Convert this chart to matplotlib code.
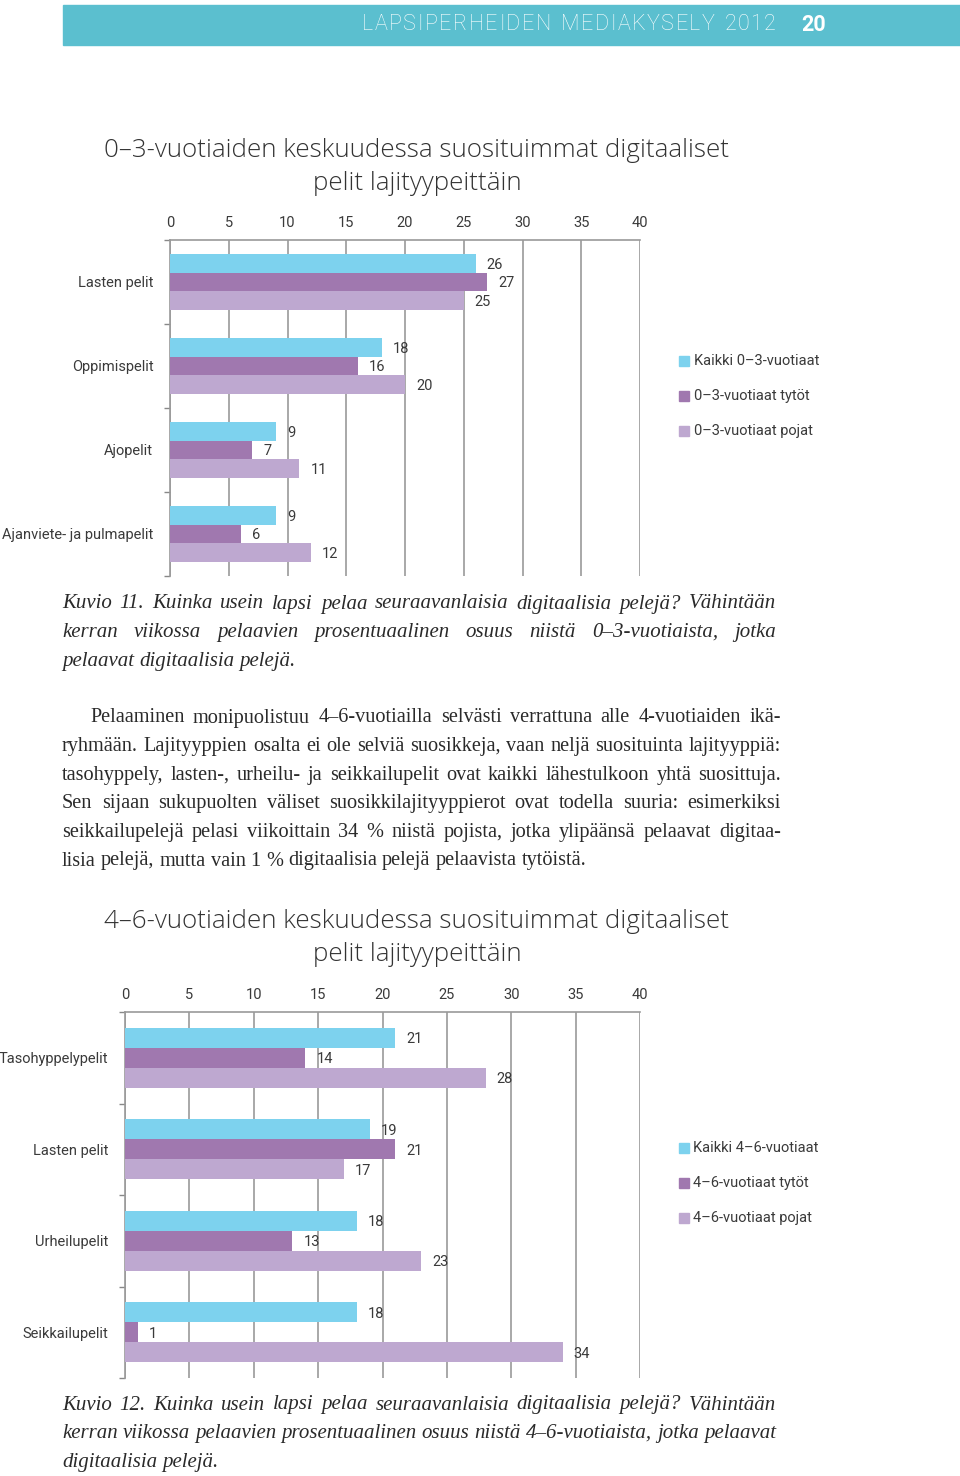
import matplotlib
matplotlib.use("Agg")
import matplotlib.pyplot as plt
import numpy as np
from matplotlib.patches import Rectangle

W, H = 960, 1476

# ---- data ----
cats1 = ["Lasten pelit", "Oppimispelit", "Ajopelit", "Ajanviete- ja pulmapelit"]
all_03 = [26, 18, 9, 9]
girls_03 = [27, 16, 7, 6]
boys_03 = [25, 20, 11, 12]
legend1 = ["Kaikki 0\u20133-vuotiaat", "0\u20133-vuotiaat tytöt", "0\u20133-vuotiaat pojat"]

cats2 = ["Tasohyppelypelit", "Lasten pelit", "Urheilupelit", "Seikkailupelit"]
all_46 = [21, 19, 18, 18]
girls_46 = [14, 21, 13, 1]
boys_46 = [28, 17, 23, 34]
legend2 = ["Kaikki 4\u20136-vuotiaat", "4\u20136-vuotiaat tytöt", "4\u20136-vuotiaat pojat"]

xticks = [0, 5, 10, 15, 20, 25, 30, 35, 40]

header = "LAPSIPERHEIDEN MEDIAKYSELY 2012"
page_no = "20"

title1 = "0\u20133-vuotiaiden keskuudessa suosituimmat digitaaliset\npelit lajityypeittäin"
title2 = "4\u20136-vuotiaiden keskuudessa suosituimmat digitaaliset\npelit lajityypeittäin"

caption1 = ["Kuvio 11. Kuinka usein lapsi pelaa seuraavanlaisia digitaalisia pelejä? Vähintään",
            "kerran viikossa pelaavien prosentuaalinen osuus niistä 0\u20133-vuotiaista, jotka",
            "pelaavat digitaalisia pelejä."]
body = ["Pelaaminen monipuolistuu 4\u20136-vuotiailla selvästi verrattuna alle 4-vuotiaiden ikä-",
        "ryhmään. Lajityyppien osalta ei ole selviä suosikkeja, vaan neljä suosituinta lajityyppiä:",
        "tasohyppely, lasten-, urheilu- ja seikkailupelit ovat kaikki lähestulkoon yhtä suosittuja.",
        "Sen sijaan sukupuolten väliset suosikkilajityyppierot ovat todella suuria: esimerkiksi",
        "seikkailupelejä pelasi viikoittain 34 % niistä pojista, jotka ylipäänsä pelaavat digitaa-",
        "lisia pelejä, mutta vain 1 % digitaalisia pelejä pelaavista tytöistä."]
caption2 = ["Kuvio 12. Kuinka usein lapsi pelaa seuraavanlaisia digitaalisia pelejä? Vähintään",
            "kerran viikossa pelaavien prosentuaalinen osuus niistä 4\u20136-vuotiaista, jotka pelaavat",
            "digitaalisia pelejä."]

colors = ["#7dd2ee", "#a078af", "#bea8d0"]
txt = "#3a3a3a"
sans = ["Roboto", "DejaVu Sans"]
title_font = ["Open Sans", "DejaVu Sans"]
serif = ["Liberation Serif", "DejaVu Serif"]

fig = plt.figure(figsize=(W / 100, H / 100), dpi=100)
renderer = fig.canvas.get_renderer()


def fx(px):
    return px / W


def fy(py):
    return 1 - py / H


def text_width(s, **kw):
    t = fig.text(0, 0, s, **kw)
    w = t.get_window_extent(renderer).width
    t.remove()
    return w


# header band, letter-spaced title
fig.patches.append(Rectangle((fx(63), fy(45)), fx(960) - fx(63), fy(5) - fy(45),
                             transform=fig.transFigure, color="#5bbfcf", zorder=0))
hkw = dict(fontsize=15.5, family=sans, fontweight="light")
cw = [text_width(c if c != " " else "n", **hkw) * (0.55 if c == " " else 1) for c in header]
track = (414 - sum(cw)) / (len(header) - 1)
x = 776 - 414
for c, w in zip(header, cw):
    fig.text(fx(x), fy(25), c, color="white", ha="left", va="center", **hkw)
    x += w + track
fig.text(fx(801), fy(25), page_no, color="white", fontsize=15.5, family=sans,
         ha="left", va="center", fontweight="bold")


def chart(left, right, top, bottom, cats, series, labels, title_y, title, leg_x, leg_y):
    ax = fig.add_axes([fx(left), fy(bottom), fx(right) - fx(left), fy(top) - fy(bottom)])
    n = len(cats)
    bh = 0.22
    centers = np.arange(n) + 0.5
    for k, vals in enumerate(series):
        ys = centers + (k - 1) * bh
        ax.barh(ys, vals, height=bh, color=colors[k], zorder=3)
        for y, v in zip(ys, vals):
            ax.annotate(str(v), (v, y), xytext=(8, -1), textcoords="offset points",
                        ha="left", va="center", fontsize=10.5, color=txt, family=sans)
    ax.set_xlim(0, 40)
    ax.set_ylim(n, 0)
    ax.set_xticks(xticks)
    ax.xaxis.tick_top()
    ax.tick_params(axis="x", length=0, pad=7.5, labelsize=10.5, labelcolor=txt)
    ax.set_yticks(np.arange(n + 1))
    ax.set_yticklabels([])
    ax.set_yticks(centers, minor=True)
    ax.set_yticklabels(cats, minor=True)
    ax.tick_params(axis="y", which="major", length=4, width=1, color="#888888", direction="out")
    ax.tick_params(axis="y", which="minor", length=0, pad=12, labelsize=10.5, labelcolor=txt)
    for lab in ax.get_xticklabels() + ax.get_yticklabels(minor=True):
        lab.set_family(sans)
    ax.grid(axis="x", color="#9a9a9a", lw=1.2, zorder=1)
    for s in ["right", "bottom"]:
        ax.spines[s].set_visible(False)
    for s in ["left", "top"]:
        ax.spines[s].set_color("#9a9a9a")
        ax.spines[s].set_linewidth(1.2)
    ax.set_facecolor("none")
    fig.text(fx(417), fy(title_y), title, ha="center", va="center", fontsize=18.75,
             color="#333333", family=title_font, linespacing=1.38, fontweight="light")
    for k, lab in enumerate(labels):
        y = leg_y + 35 * k
        fig.patches.append(Rectangle((fx(679), fy(y + 5)), fx(10), fy(0) - fy(10),
                                     transform=fig.transFigure, color=colors[k]))
        fig.text(fx(leg_x), fy(y), lab, ha="left", va="center", fontsize=10.5,
                 color=txt, family=sans)
    return ax


chart(170, 640, 240, 576, cats1, [all_03, girls_03, boys_03], legend1,
      167, title1, 694, 361)
chart(125, 640, 1012, 1378, cats2, [all_46, girls_46, boys_46], legend2,
      938, title2, 693, 1148)


def paragraph(rows, x0, x1, y0, dy, size, style, indent_first=0):
    # justified lines, last line left aligned
    kw = dict(fontsize=size, style=style, family=serif)
    space = text_width("a a", **kw) - 2 * text_width("a", **kw)
    for i, row in enumerate(rows):
        xs = x0 + (indent_first if i == 0 else 0)
        words = row.split(" ")
        widths = [text_width(w, **kw) for w in words]
        if i == len(rows) - 1 or len(words) == 1:
            gap = space
        else:
            gap = (x1 - xs - sum(widths)) / (len(words) - 1)
        x = xs
        for w, ww in zip(words, widths):
            fig.text(fx(x), fy(y0 + i * dy), w, ha="left", va="center",
                     color="#2a2a2a", **kw)
            x += ww + gap


paragraph(caption1, 62, 776, 604, 28.5, 15, "italic")
paragraph(body, 62, 781, 718, 28.6, 14.6, "normal", indent_first=28)
paragraph(caption2, 62, 776, 1405, 28.5, 15, "italic")

fig.savefig("out.png", dpi=100)
